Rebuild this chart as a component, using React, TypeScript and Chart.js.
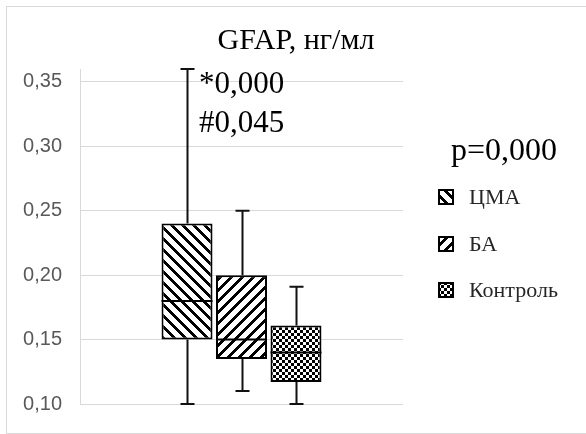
import React, { useEffect, useRef } from 'react';
import { Chart, registerables } from 'chart.js';

Chart.register(...registerables);

const categories = [''];
const groups = ['ЦМА', 'БА', 'Контроль'];
const q1Values = [0.15, 0.135, 0.117];
const q3Values = [0.24, 0.2, 0.161];
const medianValues = [0.18, 0.15, 0.14];
const minValues = [0.1, 0.11, 0.1];
const maxValues = [0.36, 0.25, 0.191];
const yTicks = [0.1, 0.15, 0.2, 0.25, 0.3, 0.35];
const titleText = 'GFAP, нг/мл';
const pText = 'p=0,000';
const notes = ['*0,000', '#0,045'];
const patternKinds = ['down', 'up', 'check'];

const SERIF = '"Liberation Serif", "Times New Roman", serif';

function makePattern(kind: string): CanvasPattern | string {
  const P = kind === 'check' ? 6 : 11;
  const c = document.createElement('canvas');
  c.width = P;
  c.height = P;
  const ctx = c.getContext('2d');
  if (!ctx) return '#fff';
  ctx.fillStyle = '#fff';
  ctx.fillRect(0, 0, P, P);
  ctx.fillStyle = '#000';
  for (let y = 0; y < P; y++) {
    for (let x = 0; x < P; x++) {
      let on = false;
      if (kind === 'down') on = (((x - y) % P) + P) % P < 4;
      else if (kind === 'up') on = (x + y) % P < 4;
      else on = (Math.floor(x / 3) + Math.floor(y / 3)) % 2 === 0;
      if (on) ctx.fillRect(x, y, 1, 1);
    }
  }
  return ctx.createPattern(c, 'repeat') || '#fff';
}

const boxPlugin = {
  id: 'boxExtras',
  afterDatasetsDraw(chart: any) {
    const ctx: CanvasRenderingContext2D = chart.ctx;
    const ys = chart.scales.y;
    chart.data.datasets.forEach((_ds: any, i: number) => {
      const el: any = chart.getDatasetMeta(i).data[0];
      if (!el) return;
      const x = Math.round(el.x) + 0.5;
      const w = el.width;
      const yMed = ys.getPixelForValue(medianValues[i]);
      const yQ1 = ys.getPixelForValue(q1Values[i]);
      const yQ3 = ys.getPixelForValue(q3Values[i]);
      const yMin = ys.getPixelForValue(minValues[i]);
      const yMax = ys.getPixelForValue(maxValues[i]);
      ctx.save();
      ctx.strokeStyle = '#000';
      ctx.lineWidth = 2;
      ctx.beginPath();
      ctx.moveTo(el.x - w / 2, yMed);
      ctx.lineTo(el.x + w / 2, yMed);
      ctx.stroke();
      ctx.lineWidth = 2;
      ctx.strokeStyle = '#111';
      ctx.beginPath();
      ctx.moveTo(x, yQ3);
      ctx.lineTo(x, yMax);
      ctx.moveTo(x - 7, yMax);
      ctx.lineTo(x + 7, yMax);
      ctx.moveTo(x, yQ1);
      ctx.lineTo(x, yMin);
      ctx.moveTo(x - 7, yMin);
      ctx.lineTo(x + 7, yMin);
      ctx.stroke();
      ctx.restore();
    });
  },
};

const decorPlugin = {
  id: 'decor',
  beforeDraw(chart: any) {
    const ctx: CanvasRenderingContext2D = chart.ctx;
    ctx.save();
    ctx.fillStyle = '#fff';
    ctx.fillRect(0, 0, chart.width, chart.height);
    ctx.strokeStyle = '#d9d9d9';
    ctx.lineWidth = 1;
    ctx.strokeRect(6.5, 6.5, chart.width + 10, chart.height - 7);
    ctx.restore();
  },
  afterDraw(chart: any) {
    const ctx: CanvasRenderingContext2D = chart.ctx;
    const area = chart.chartArea;
    ctx.save();
    ctx.fillStyle = '#000';
    ctx.textBaseline = 'alphabetic';
    // title
    ctx.font = `30px ${SERIF}`;
    ctx.textAlign = 'center';
    ctx.fillText(titleText, 296, 49);
    // notes near first group
    const el: any = chart.getDatasetMeta(0).data[0];
    ctx.textAlign = 'left';
    ctx.font = `31px ${SERIF}`;
    if (el) {
      notes.forEach((t, k) => {
        ctx.fillText(t, el.x + 12, area.top + 24 + k * 39);
      });
    }
    // p value
    ctx.font = `32px ${SERIF}`;
    ctx.fillText(pText, area.right + 48, 160);
    // legend
    ctx.font = `22px ${SERIF}`;
    ctx.textBaseline = 'middle';
    const legendY = [197, 244, 290];
    chart.data.datasets.forEach((ds: any, i: number) => {
      const cy = legendY[i];
      const sx = area.right + 36;
      ctx.fillStyle = ds.backgroundColor;
      ctx.fillRect(sx, cy - 7, 14, 14);
      ctx.strokeStyle = '#000';
      ctx.lineWidth = 2;
      ctx.strokeRect(sx, cy - 7, 14, 14);
      ctx.fillStyle = '#262626';
      ctx.fillText(ds.label, sx + 30, cy + 1);
    });
    ctx.restore();
  },
};

export default function App() {
  const ref = useRef<HTMLCanvasElement>(null);
  useEffect(() => {
    document.body.style.margin = '0';
    if (!ref.current) return;
    const patterns = patternKinds.map(makePattern);
    const chart = new Chart(ref.current, {
      type: 'bar',
      data: {
        labels: categories,
        datasets: groups.map((g, i) => ({
          label: g,
          data: [[q1Values[i], q3Values[i]]] as any,
          backgroundColor: patterns[i] as any,
          borderColor: '#000',
          borderWidth: 2,
          borderSkipped: false,
          categoryPercentage: 0.506,
          barPercentage: 0.936,
        })),
      },
      options: {
        animation: false,
        responsive: false,
        layout: { padding: { left: 0, top: 69, right: 183, bottom: 27 } },
        plugins: {
          legend: { display: false },
          title: { display: false },
          tooltip: { enabled: false },
        },
        scales: {
          x: { display: false, offset: true },
          y: {
            min: 0.1,
            max: 0.36,
            afterFit: (s: any) => {
              s.width = 80;
            },
            afterBuildTicks: (s: any) => {
              s.ticks = yTicks.map((v) => ({ value: v }));
            },
            border: { color: '#d9d9d9', width: 1 },
            grid: { color: '#d9d9d9', drawTicks: false, lineWidth: 1 },
            ticks: {
              padding: 18,
              color: '#595959',
              font: { family: '"Liberation Sans", Arial, sans-serif', size: 20 },
              callback: (v: any) => Number(v).toFixed(2).replace('.', ','),
            },
          },
        },
      },
      plugins: [decorPlugin, boxPlugin],
    });
    return () => chart.destroy();
  }, []);
  return <canvas ref={ref} width={586} height={434} style={{ display: 'block' }} />;
}
